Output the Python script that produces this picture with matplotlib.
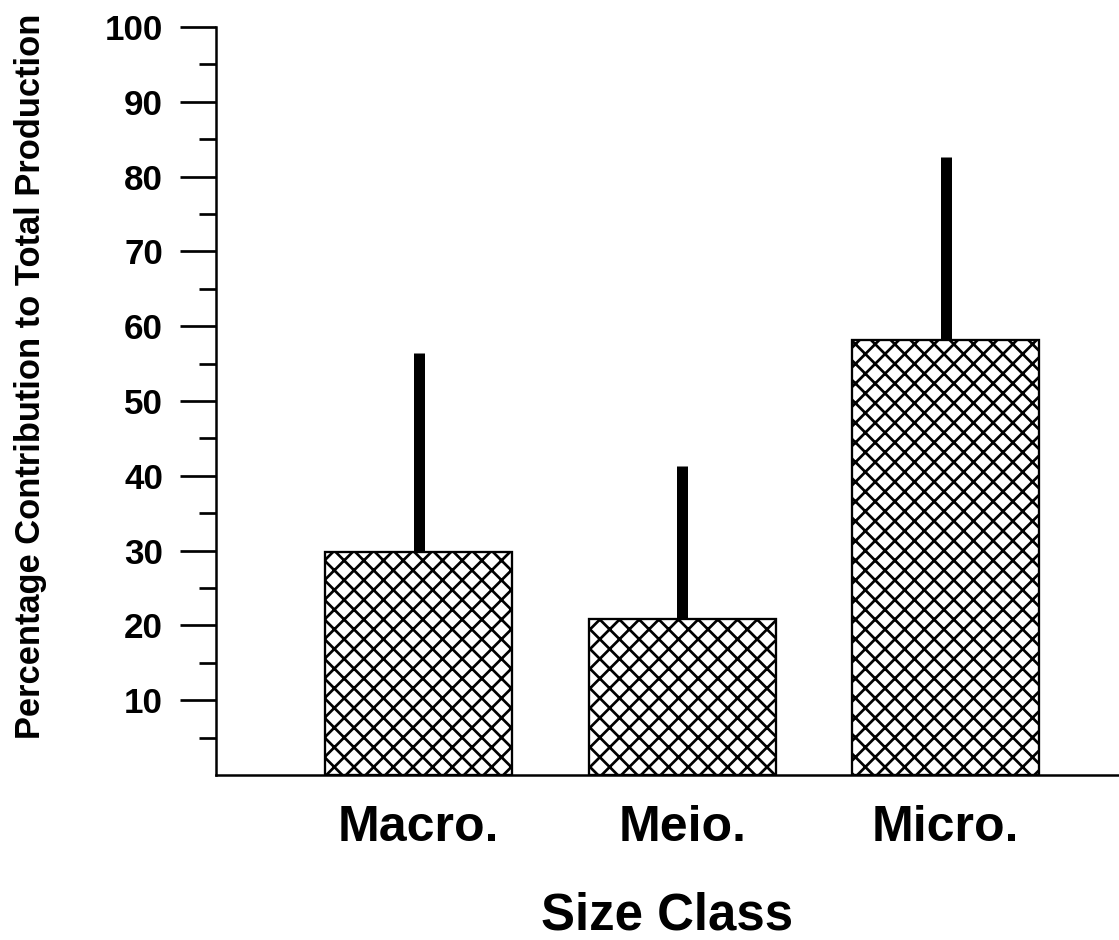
import matplotlib
matplotlib.use("Agg")
import matplotlib.pyplot as plt
from matplotlib.ticker import FixedLocator

dpi = 118
def pt(px):
    # pixel sizes measured on the reference -> points at this dpi
    return px * 72 / dpi

plt.rcParams.update({'font.family': ['Liberation Sans', 'DejaVu Sans'],
                     'font.weight': 'bold', 'hatch.linewidth': pt(2.7)})

# values
classes = ["Macro.", "Meio.", "Micro."]
means = [29.8, 20.9, 58.2]
upper_err = [26.6, 20.4, 24.4]
ylabel = "Percentage Contribution to Total Production"
xlabel = "Size Class"
major_ticks = [10, 20, 30, 40, 50, 60, 70, 80, 90, 100]
minor_ticks = [5, 15, 25, 35, 45, 55, 65, 75, 85, 95]

fig = plt.figure(figsize=(1119 / dpi, 940 / dpi), dpi=dpi)
ax = fig.add_axes([216 / 1119, 1 - 775 / 940, 1 - 216 / 1119, (775 - 27) / 940])

pos = [1, 2, 3]
ax.bar(pos, means, width=0.71, color='white', edgecolor='black',
       linewidth=pt(2.3), hatch='xx', zorder=2)
tops = [m + e for m, e in zip(means, upper_err)]
ax.vlines(pos, means, tops, color='black', linewidth=pt(11),
          capstyle='butt', zorder=3)

ax.set_xlim(0.23, 3.658)
ax.set_ylim(0, 100)
ax.set_xticks(pos)
ax.set_xticklabels(classes, fontsize=pt(50), fontweight='bold')
ax.tick_params(axis='x', length=0, pad=pt(30))

ax.yaxis.set_major_locator(FixedLocator(major_ticks))
ax.yaxis.set_minor_locator(FixedLocator(minor_ticks))
ax.tick_params(axis='y', which='major', length=pt(36), width=pt(2.7),
               labelsize=pt(35), pad=pt(17))
ax.tick_params(axis='y', which='minor', length=pt(17), width=pt(2.7))
for lab in ax.get_yticklabels():
    lab.set_fontweight('bold')

for s in ['top', 'right']:
    ax.spines[s].set_visible(False)
for s in ['left', 'bottom']:
    ax.spines[s].set_linewidth(pt(2.5))

ax.set_xlabel(xlabel, fontsize=pt(51), fontweight='bold', labelpad=pt(41))
fig.text(31 / 1119, 1 - 376 / 940, ylabel, rotation=90, ha='center', va='center',
         fontsize=pt(34.5), fontweight='bold')

fig.savefig("out.png", dpi=dpi)
